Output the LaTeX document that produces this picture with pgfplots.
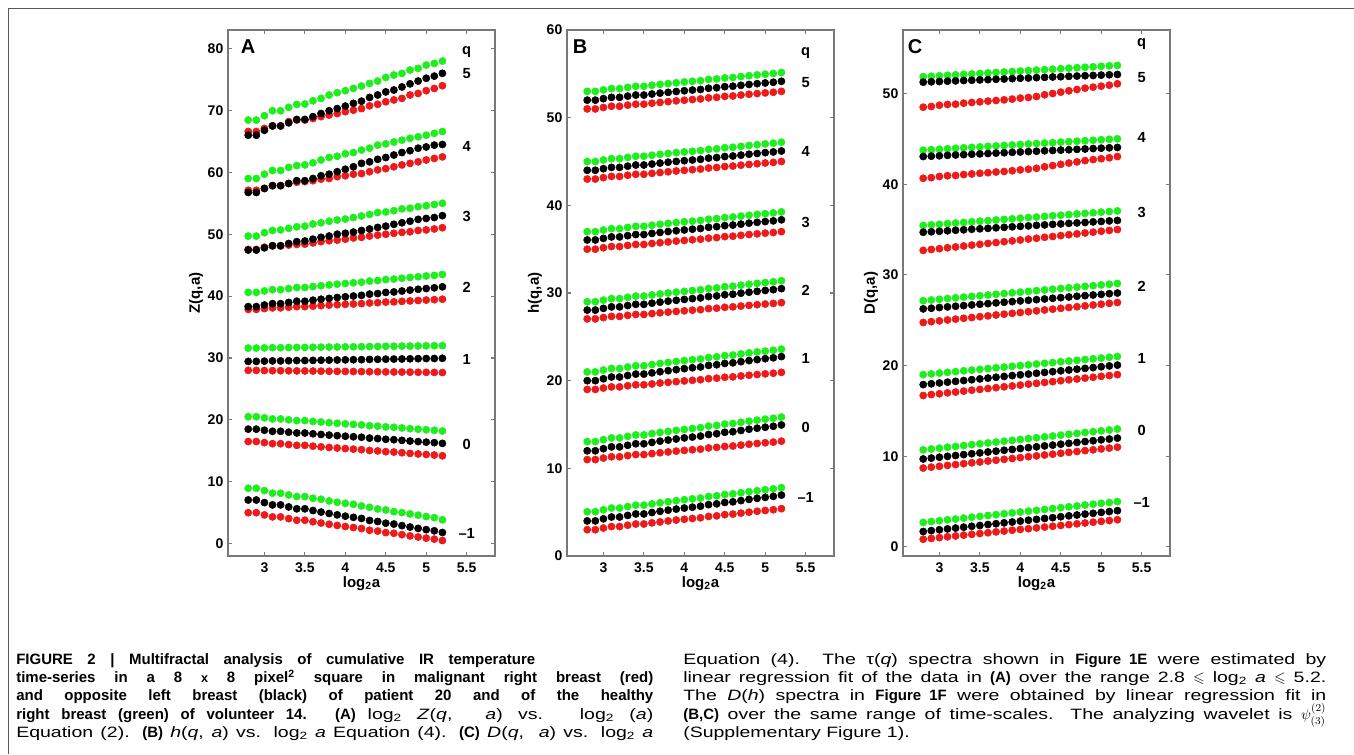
\documentclass[border=0pt]{standalone}
\usepackage{fontspec}
\setmainfont{Liberation Sans}
\newfontfamily\capbf{Liberation Sans}
\newfontfamily\capreg{Liberation Sans}[FakeStretch=1.3]
\usepackage{amssymb}
\usepackage{pgfplots}
\pgfplotsset{compat=1.18}
\usepackage{pgfplotstable}

\definecolor{mgreen}{RGB}{30,238,30}
\definecolor{mred}{RGB}{238,25,25}
\definecolor{axgray}{RGB}{120,120,120}

\pgfplotstableread{
s 2.8 2.9 3.0 3.1 3.2 3.3 3.4 3.5 3.6 3.7 3.8 3.9 4.0 4.1 4.2 4.3 4.4 4.5 4.6 4.7 4.8 4.9 5.0 5.1 5.2
r5 66.6 66.6 67.1 67.5 67.5 68.2 68.45 68.45 68.7 69.0 69.25 69.5 69.8 70.05 70.3 70.75 71.0 71.4 71.7 71.95 72.5 72.75 73.2 73.55 74.0
g5 68.45 68.45 69.15 69.95 69.95 70.5 70.98 71.04 71.57 71.95 72.49 72.87 73.19 73.57 73.94 74.38 74.75 75.34 75.72 75.99 76.53 76.80 77.33 77.6 77.98
k5 66.0 66.0 66.8 67.5 67.5 68.0 68.55 68.55 69.0 69.5 69.95 70.3 70.7 71.15 71.5 72.1 72.5 73.0 73.3 73.8 74.3 74.75 75.2 75.55 76.0
r4 57.1 57.1 57.4 57.85 57.85 58.2 58.4 58.5 58.65 58.9 59.0 59.3 59.45 59.7 59.8 60.1 60.4 60.6 60.9 61.2 61.45 61.7 62.0 62.25 62.5
g4 59.0 59.0 59.7 60.3 60.3 60.8 61.1 61.2 61.55 62.0 62.4 62.6 63.0 63.2 63.6 63.9 64.4 64.6 64.9 65.2 65.5 65.75 66.0 66.3 66.6
k4 56.75 56.75 57.4 57.85 57.85 58.2 58.65 58.65 59.0 59.45 59.7 60.1 60.5 60.9 61.45 61.7 62.1 62.4 62.8 63.2 63.5 63.9 64.1 64.4 64.5
r3 47.55 47.55 47.9 48.1 48.1 48.25 48.35 48.4 48.6 48.8 48.95 49.05 49.2 49.4 49.5 49.7 49.85 50.0 50.15 50.3 50.4 50.6 50.7 50.85 51.05
g3 49.7 49.7 50.25 50.6 50.7 50.95 51.2 51.3 51.65 51.85 52.1 52.3 52.45 52.7 52.95 53.2 53.5 53.6 53.8 54.1 54.2 54.45 54.6 54.8 55.0
k3 47.45 47.45 47.8 48.15 48.15 48.5 48.8 48.9 49.2 49.5 49.7 50.0 50.15 50.35 50.6 50.85 51.1 51.3 51.6 51.85 52.1 52.4 52.55 52.7 53.0
r2 37.85 37.85 37.98 38.1 38.1 38.2 38.3 38.3 38.38 38.46 38.54 38.61 38.67 38.73 38.79 38.89 38.94 39.03 39.07 39.15 39.22 39.29 39.36 39.42 39.5
g2 40.6 40.6 40.83 41.04 41.04 41.22 41.39 41.39 41.54 41.68 41.81 41.93 42.04 42.15 42.25 42.43 42.51 42.67 42.75 42.89 43.02 43.13 43.25 43.35 43.5
k2 38.3 38.3 38.56 38.78 38.78 38.98 39.17 39.17 39.34 39.49 39.63 39.77 39.89 40.01 40.12 40.32 40.41 40.59 40.67 40.82 40.97 41.1 41.22 41.34 41.5
r1 28.0 28.0 27.97 27.95 27.95 27.93 27.91 27.91 27.89 27.87 27.85 27.84 27.83 27.81 27.8 27.78 27.77 27.75 27.74 27.72 27.71 27.69 27.68 27.67 27.65
g1 31.6 31.6 31.63 31.66 31.66 31.69 31.71 31.71 31.73 31.75 31.77 31.78 31.8 31.81 31.83 31.85 31.86 31.89 31.9 31.92 31.93 31.95 31.97 31.98 32.0
k1 29.45 29.45 29.49 29.53 29.53 29.56 29.59 29.59 29.61 29.64 29.66 29.68 29.7 29.72 29.73 29.77 29.78 29.81 29.82 29.84 29.87 29.89 29.91 29.92 29.95
r0 16.5 16.5 16.32 16.15 16.15 16.01 15.88 15.88 15.75 15.64 15.54 15.45 15.36 15.27 15.19 15.05 14.98 14.86 14.8 14.69 14.58 14.49 14.4 14.32 14.2
g0 20.5 20.5 20.32 20.15 20.15 20.01 19.88 19.88 19.75 19.64 19.54 19.45 19.36 19.27 19.19 19.05 18.98 18.86 18.8 18.69 18.58 18.49 18.4 18.32 18.2
k0 18.5 18.5 18.32 18.15 18.15 18.01 17.88 17.88 17.75 17.64 17.54 17.45 17.36 17.27 17.19 17.05 16.98 16.86 16.8 16.69 16.58 16.49 16.4 16.32 16.2
rm 5.0 5.0 4.64 4.32 4.32 4.04 3.78 3.78 3.54 3.33 3.13 2.94 2.76 2.6 2.44 2.16 2.03 1.78 1.67 1.45 1.25 1.07 0.89 0.73 0.5
gm 8.95 8.95 8.57 8.15 8.15 7.87 7.6 7.6 7.33 7.17 6.9 6.68 6.52 6.36 6.09 5.87 5.6 5.44 5.17 5.01 4.8 4.6 4.37 4.2 3.85
km 7.05 7.05 6.63 6.26 6.26 5.93 5.63 5.63 5.35 5.1 4.87 4.65 4.44 4.25 4.07 3.74 3.58 3.3 3.16 2.91 2.68 2.46 2.26 2.07 1.8
}\tA
\pgfplotstabletranspose[colnames from=s]\tAT{\tA}

\pgfplotstableread{
s 2.8 2.9 3.0 3.1 3.2 3.3 3.4 3.5 3.6 3.7 3.8 3.9 4.0 4.1 4.2 4.3 4.4 4.5 4.6 4.7 4.8 4.9 5.0 5.1 5.2
r5 51.0 51.0 51.16 51.30 51.30 51.43 51.54 51.54 51.65 51.74 51.83 51.92 51.99 52.07 52.14 52.26 52.32 52.43 52.48 52.58 52.67 52.75 52.83 52.90 53.0
g5 53.0 53.0 53.17 53.32 53.32 53.46 53.58 53.58 53.70 53.80 53.89 53.98 54.07 54.15 54.22 54.36 54.42 54.54 54.59 54.69 54.79 54.88 54.96 55.04 55.15
k5 52.0 52.0 52.17 52.32 52.32 52.46 52.58 52.58 52.70 52.80 52.89 52.98 53.07 53.15 53.22 53.36 53.42 53.54 53.59 53.69 53.79 53.88 53.96 54.04 54.15
r4 43.0 43.0 43.16 43.30 43.30 43.43 43.54 43.54 43.65 43.74 43.83 43.92 43.99 44.07 44.14 44.26 44.32 44.43 44.48 44.58 44.67 44.75 44.83 44.90 45.0
g4 45.0 45.0 45.18 45.33 45.33 45.47 45.60 45.60 45.71 45.82 45.92 46.01 46.09 46.17 46.25 46.39 46.45 46.57 46.63 46.73 46.83 46.92 47.01 47.09 47.2
k4 44.0 44.0 44.18 44.33 44.33 44.47 44.60 44.60 44.71 44.82 44.92 45.01 45.09 45.17 45.25 45.39 45.45 45.57 45.63 45.73 45.83 45.92 46.01 46.09 46.2
r3 35.0 35.0 35.16 35.30 35.30 35.43 35.54 35.54 35.65 35.74 35.83 35.92 35.99 36.07 36.14 36.26 36.32 36.43 36.48 36.58 36.67 36.75 36.83 36.90 37.0
g3 37.0 37.0 37.18 37.34 37.34 37.48 37.61 37.61 37.73 37.84 37.94 38.03 38.12 38.20 38.28 38.42 38.49 38.61 38.67 38.77 38.87 38.97 39.05 39.14 39.25
k3 36.05 36.05 36.23 36.40 36.40 36.54 36.67 36.67 36.80 36.91 37.01 37.10 37.19 37.28 37.36 37.50 37.57 37.69 37.75 37.86 37.97 38.06 38.15 38.23 38.35
r2 27.05 27.05 27.20 27.33 27.33 27.45 27.55 27.55 27.65 27.74 27.82 27.90 27.97 28.04 28.10 28.22 28.27 28.37 28.42 28.51 28.59 28.67 28.74 28.81 28.9
g2 29.0 29.0 29.19 29.36 29.36 29.51 29.65 29.65 29.78 29.89 30.0 30.10 30.19 30.28 30.36 30.51 30.58 30.72 30.78 30.89 31.0 31.10 31.19 31.28 31.4
k2 28.05 28.05 28.25 28.42 28.42 28.57 28.71 28.71 28.84 28.96 29.07 29.17 29.27 29.36 29.44 29.60 29.67 29.80 29.86 29.98 30.09 30.19 30.29 30.38 30.5
r1 19.0 19.0 19.16 19.29 19.29 19.42 19.53 19.53 19.63 19.73 19.81 19.89 19.97 20.04 20.11 20.23 20.29 20.39 20.44 20.54 20.62 20.70 20.78 20.85 20.95
g1 21.0 21.0 21.21 21.39 21.39 21.56 21.70 21.70 21.84 21.97 22.08 22.19 22.29 22.39 22.48 22.64 22.72 22.86 22.92 23.05 23.17 23.27 23.37 23.47 23.6
k1 20.0 20.0 20.22 20.42 20.42 20.59 20.75 20.75 20.89 21.02 21.14 21.26 21.37 21.47 21.56 21.74 21.82 21.97 22.04 22.17 22.29 22.40 22.51 22.61 22.75
r0 11.0 11.0 11.17 11.32 11.32 11.45 11.57 11.57 11.68 11.78 11.87 11.96 12.04 12.12 12.19 12.33 12.39 12.50 12.55 12.65 12.75 12.84 12.92 12.99 13.1
g0 13.05 13.05 13.27 13.47 13.47 13.65 13.81 13.81 13.96 14.09 14.21 14.33 14.44 14.54 14.64 14.82 14.90 15.05 15.12 15.26 15.38 15.50 15.61 15.71 15.85
k0 12.0 12.0 12.24 12.45 12.45 12.63 12.80 12.80 12.96 13.10 13.23 13.35 13.47 13.57 13.68 13.86 13.95 14.11 14.18 14.32 14.46 14.58 14.69 14.80 14.95
rm 3.0 3.0 3.19 3.36 3.36 3.51 3.65 3.65 3.78 3.89 4.0 4.10 4.19 4.28 4.36 4.51 4.58 4.72 4.78 4.89 5.0 5.10 5.19 5.28 5.4
gm 5.05 5.05 5.27 5.47 5.47 5.64 5.80 5.80 5.94 6.07 6.19 6.31 6.42 6.52 6.61 6.79 6.87 7.02 7.09 7.22 7.34 7.45 7.56 7.66 7.8
km 4.0 4.0 4.24 4.45 4.45 4.63 4.80 4.80 4.96 5.10 5.23 5.35 5.47 5.57 5.68 5.86 5.95 6.11 6.18 6.32 6.46 6.58 6.69 6.80 6.95
}\tB
\pgfplotstabletranspose[colnames from=s]\tBT{\tB}

\pgfplotstableread{
s 2.8 2.9 3.0 3.1 3.2 3.3 3.4 3.5 3.6 3.7 3.8 3.9 4.0 4.1 4.2 4.3 4.4 4.5 4.6 4.7 4.8 4.9 5.0 5.1 5.2
r5 48.49 48.57 48.71 48.79 48.82 48.93 49.01 49.08 49.16 49.23 49.30 49.38 49.49 49.56 49.67 49.86 50.0 50.15 50.30 50.44 50.59 50.70 50.81 50.92 51.07
g5 51.85 51.9 51.95 52.01 52.06 52.11 52.16 52.21 52.27 52.32 52.37 52.42 52.48 52.53 52.58 52.63 52.68 52.74 52.79 52.84 52.89 52.94 53.0 53.05 53.1
k5 51.25 51.29 51.32 51.36 51.39 51.43 51.46 51.5 51.53 51.57 51.6 51.64 51.68 51.71 51.75 51.78 51.82 51.85 51.89 51.92 51.96 51.99 52.03 52.06 52.1
r4 40.65 40.72 40.85 40.93 40.96 41.06 41.13 41.2 41.27 41.34 41.4 41.48 41.58 41.65 41.75 41.92 42.05 42.19 42.33 42.46 42.6 42.71 42.81 42.91 43.05
g4 43.75 43.8 43.85 43.91 43.96 44.01 44.06 44.11 44.17 44.22 44.27 44.32 44.38 44.43 44.48 44.53 44.58 44.64 44.69 44.74 44.79 44.84 44.9 44.95 45.0
k4 43.05 43.09 43.13 43.18 43.22 43.26 43.3 43.34 43.38 43.43 43.47 43.51 43.55 43.59 43.63 43.68 43.72 43.76 43.8 43.84 43.88 43.93 43.97 44.01 44.05
r3 32.7 32.8 32.89 32.99 33.08 33.18 33.28 33.37 33.47 33.56 33.66 33.75 33.85 33.95 34.04 34.14 34.23 34.33 34.43 34.52 34.62 34.71 34.81 34.9 35.0
g3 35.45 35.52 35.58 35.65 35.72 35.78 35.85 35.92 35.98 36.05 36.12 36.18 36.25 36.32 36.38 36.45 36.52 36.58 36.65 36.72 36.78 36.85 36.92 36.98 37.05
k3 34.7 34.75 34.81 34.86 34.92 34.97 35.03 35.08 35.13 35.19 35.24 35.3 35.35 35.4 35.46 35.51 35.57 35.62 35.68 35.73 35.78 35.84 35.89 35.95 36.0
r2 24.75 24.84 24.93 25.03 25.12 25.21 25.3 25.39 25.48 25.58 25.67 25.76 25.85 25.94 26.03 26.13 26.22 26.31 26.4 26.49 26.58 26.68 26.77 26.86 26.95
g2 27.15 27.23 27.31 27.39 27.47 27.55 27.63 27.7 27.78 27.86 27.94 28.02 28.1 28.18 28.26 28.34 28.42 28.5 28.58 28.65 28.73 28.81 28.89 28.97 29.05
k2 26.25 26.32 26.4 26.47 26.54 26.61 26.69 26.76 26.83 26.91 26.98 27.05 27.13 27.2 27.27 27.34 27.42 27.49 27.56 27.64 27.71 27.78 27.85 27.93 28.0
r1 16.7 16.8 16.89 16.99 17.08 17.18 17.28 17.37 17.47 17.56 17.66 17.75 17.85 17.95 18.04 18.14 18.23 18.33 18.43 18.52 18.62 18.71 18.81 18.9 19.0
g1 19.0 19.08 19.17 19.25 19.33 19.42 19.5 19.58 19.67 19.75 19.83 19.92 20.0 20.08 20.17 20.25 20.33 20.42 20.5 20.58 20.67 20.75 20.83 20.92 21.0
k1 17.9 17.99 18.08 18.17 18.26 18.35 18.44 18.53 18.62 18.71 18.8 18.89 18.98 19.06 19.15 19.24 19.33 19.42 19.51 19.6 19.69 19.78 19.87 19.96 20.05
r0 8.7 8.8 8.89 8.99 9.08 9.18 9.28 9.37 9.47 9.56 9.66 9.75 9.85 9.95 10.04 10.14 10.23 10.33 10.43 10.52 10.62 10.71 10.81 10.9 11.0
g0 10.7 10.8 10.89 10.99 11.08 11.18 11.28 11.37 11.47 11.56 11.66 11.75 11.85 11.95 12.04 12.14 12.23 12.33 12.43 12.52 12.62 12.71 12.81 12.9 13.0
k0 9.7 9.8 9.89 9.99 10.08 10.18 10.28 10.37 10.47 10.56 10.66 10.75 10.85 10.95 11.04 11.14 11.23 11.33 11.43 11.52 11.62 11.71 11.81 11.9 12.0
rm 0.85 0.94 1.03 1.12 1.21 1.3 1.39 1.48 1.57 1.66 1.75 1.84 1.93 2.01 2.1 2.19 2.28 2.37 2.46 2.55 2.64 2.73 2.82 2.91 3.0
gm 2.7 2.8 2.89 2.99 3.08 3.18 3.28 3.37 3.47 3.56 3.66 3.75 3.85 3.95 4.04 4.14 4.23 4.33 4.43 4.52 4.62 4.71 4.81 4.9 5.0
km 1.7 1.8 1.89 1.99 2.08 2.18 2.28 2.37 2.47 2.56 2.66 2.75 2.85 2.95 3.04 3.14 3.23 3.33 3.43 3.52 3.62 3.71 3.81 3.9 4.0
}\tC
\pgfplotstabletranspose[colnames from=s]\tCT{\tC}

\pgfplotsset{
  panel/.style={
    scale only axis, width=200.25pt, height=394.5pt,
    xmin=2.55, xmax=5.85,
    xtick={3,3.5,4,4.5,5,5.5},
    tick align=inside, major tick length=3.2pt,
    axis line style={draw=axgray, line width=0.9pt},
    every tick/.style={draw=axgray, line width=0.8pt},
    ticklabel style={font=\bfseries\fontsize{10.5}{12}\selectfont},
    xticklabel style={yshift=-1.5pt},
    /pgf/number format/assume math mode=true,
    clip=false,
  },
  dot/.style={only marks, mark=*, mark size=2.7pt, color=#1},
}
\tikzset{
  qlab/.style={font=\bfseries\fontsize{11}{13}\selectfont, anchor=center, inner sep=0pt},
  ylab/.style={font=\bfseries\fontsize{11.25}{13}\selectfont, rotate=90, anchor=center, inner sep=0pt},
  xlab/.style={font=\bfseries\fontsize{11.25}{13}\selectfont, anchor=base, inner sep=0pt},
  plab/.style={font=\bfseries\fontsize{15}{18}\selectfont, anchor=center, inner sep=0pt},
  capnode/.style={anchor=base west, inner sep=0pt},
}
\newcommand{\capsize}{\fontsize{11.25}{13.75}\selectfont}
\newcommand{\B}[1]{{\capbf\bfseries #1}}

\begin{document}
\begin{tikzpicture}
\path[use as bounding box, fill=white] (0,0) rectangle (1015.5pt,-565.5pt);
\draw[line width=1.4pt, black!65] (6.4pt,-565.5pt) -- (6.4pt,-6.4pt) -- (1015.5pt,-6.4pt);

% Panel A
\begin{axis}[panel, at={(171pt,-417pt)}, anchor=south west,
  ymin=-2, ymax=83, ytick={0,10,20,30,40,50,60,70,80}]
\pgfplotsinvokeforeach{5,4,3,2,1,0,m}{
  \addplot[dot=mred] table[x=colnames,y=r#1]{\tAT};
  \addplot[dot=mgreen] table[x=colnames,y=g#1]{\tAT};
  \addplot[dot=black] table[x=colnames,y=k#1]{\tAT};
}
\node[qlab] at (axis cs:5.5,79.5) {q};
\node[qlab] at (axis cs:5.5,76.0) {5};
\node[qlab] at (axis cs:5.5,64.2) {4};
\node[qlab] at (axis cs:5.5,52.8) {3};
\node[qlab] at (axis cs:5.5,41.4) {2};
\node[qlab] at (axis cs:5.5,29.8) {1};
\node[qlab] at (axis cs:5.5,16.1) {0};
\node[qlab] at (axis cs:5.5,1.6) {–1};
\node[ylab] at ([xshift=-24pt]rel axis cs:0,0.5) {Z(q,a)};
\node[xlab] at ([yshift=-23.5pt]rel axis cs:0.5,0) {log\textsubscript{2}a};
\end{axis}

% Panel B
\begin{axis}[panel, at={(425.25pt,-417pt)}, anchor=south west,
  ymin=0, ymax=60, ytick={0,10,20,30,40,50,60}]
\pgfplotsinvokeforeach{5,4,3,2,1,0,m}{
  \addplot[dot=mred] table[x=colnames,y=r#1]{\tBT};
  \addplot[dot=mgreen] table[x=colnames,y=g#1]{\tBT};
  \addplot[dot=black] table[x=colnames,y=k#1]{\tBT};
}
\node[qlab] at (axis cs:5.5,57.4) {q};
\node[qlab] at (axis cs:5.5,54.0) {5};
\node[qlab] at (axis cs:5.5,46.1) {4};
\node[qlab] at (axis cs:5.5,38.05) {3};
\node[qlab] at (axis cs:5.5,30.3) {2};
\node[qlab] at (axis cs:5.5,22.5) {1};
\node[qlab] at (axis cs:5.5,14.7) {0};
\node[qlab] at (axis cs:5.5,6.7) {–1};
\node[ylab] at ([xshift=-24pt]rel axis cs:0,0.5) {h(q,a)};
\node[xlab] at ([yshift=-23.5pt]rel axis cs:0.5,0) {log\textsubscript{2}a};
\end{axis}

% Panel C
\begin{axis}[panel, at={(677.25pt,-417pt)}, anchor=south west,
  ymin=-1, ymax=57, ytick={0,10,20,30,40,50}]
\pgfplotsinvokeforeach{5,4,3,2,1,0,m}{
  \addplot[dot=mred] table[x=colnames,y=r#1]{\tCT};
  \addplot[dot=mgreen] table[x=colnames,y=g#1]{\tCT};
  \addplot[dot=black] table[x=colnames,y=k#1]{\tCT};
}
\node[qlab] at (axis cs:5.5,55.5) {q};
\node[qlab] at (axis cs:5.5,51.8) {5};
\node[qlab] at (axis cs:5.5,45.1) {4};
\node[qlab] at (axis cs:5.5,36.9) {3};
\node[qlab] at (axis cs:5.5,28.7) {2};
\node[qlab] at (axis cs:5.5,20.8) {1};
\node[qlab] at (axis cs:5.5,12.9) {0};
\node[qlab] at (axis cs:5.5,4.9) {–1};
\node[ylab] at ([xshift=-24pt]rel axis cs:0,0.5) {D(q,a)};
\node[xlab] at ([yshift=-23.5pt]rel axis cs:0.5,0) {log\textsubscript{2}a};
\end{axis}

% panel letters
\node[plab] at (186pt,-35pt) {A};
\node[plab] at (435pt,-35pt) {B};
\node[plab] at (686.25pt,-35pt) {C};

% caption, left column
\node[capnode] at (12pt,-498pt) {\capsize\capbf\bfseries\makebox[389.25pt][s]{FIGURE 2 | Multifractal analysis of cumulative IR temperature}};
\node[capnode] at (12pt,-511.75pt) {\capsize\capbf\bfseries\makebox[477.75pt][s]{time-series in a 8 {\fontsize{9.5}{11}\selectfont x} 8 pixel\textsuperscript{2} square in malignant right breast (red)}};
\node[capnode] at (12pt,-525.5pt) {\capsize\capbf\bfseries\makebox[477.75pt][s]{and opposite left breast (black) of patient 20 and of the healthy}};
\node[capnode] at (12pt,-539.25pt) {\capsize\makebox[477.75pt][s]{\B{right breast (green) of volunteer 14. (A)} \capreg log\textsubscript{2} \textit{Z}(\textit{q}, \ \textit{a}) vs. log\textsubscript{2} (\textit{a})}};
\node[capnode] at (12pt,-553pt) {\capsize\makebox[477.75pt][s]{\capreg Equation (2). \B{(B)} \textit{h}(\textit{q}, \textit{a}) vs. log\textsubscript{2} \textit{a} Equation (4). \B{(C)} \textit{D}(\textit{q}, \ \textit{a}) vs. log\textsubscript{2} \textit{a}}};

% caption, right column
\node[capnode] at (512.25pt,-498pt) {\capsize\makebox[482.25pt][s]{\capreg Equation (4). The τ(\textit{q}) spectra shown in \B{Figure 1E} were estimated by}};
\node[capnode] at (512.25pt,-511.75pt) {\capsize\makebox[482.25pt][s]{\capreg linear regression fit of the data in \B{(A)} over the range 2.8 $\leqslant$ log\textsubscript{2} \textit{a} $\leqslant$ 5.2.}};
\node[capnode] at (512.25pt,-525.5pt) {\capsize\makebox[482.25pt][s]{\capreg The \textit{D}(\textit{h}) spectra in \B{Figure 1F} were obtained by linear regression fit in}};
\node[capnode] at (512.25pt,-539.25pt) {\capsize\makebox[482.25pt][s]{\capreg \B{(B,C)} over the same range of time-scales. The analyzing wavelet is $\psi^{(2)}_{(3)}$}};
\node[capnode] at (512.25pt,-553pt) {\capsize\capreg (Supplementary Figure 1).};
\end{tikzpicture}
\end{document}
